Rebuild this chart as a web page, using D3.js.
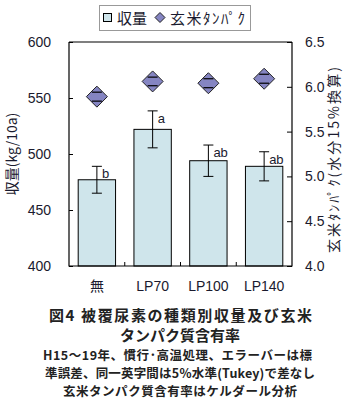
<!DOCTYPE html>
<html><head><meta charset="utf-8">
<script src="https://cdn.jsdelivr.net/npm/d3@7"></script>
<style>
body{margin:0;background:#fff;}
text{font-family:"Liberation Sans","Noto Sans CJK JP",sans-serif;}
.jp{font-family:"Noto Sans CJK JP","Liberation Sans",sans-serif;}
</style></head><body>
<svg id="c" width="347" height="400"></svg>
<script>
const categories = ["無","LP70","LP100","LP140"];
const yieldVals = [477, 522, 494, 489];
const yieldErr = [12, 16.5, 14, 13];
const sigLetters = ["b","a","ab","ab"];
const proteinVals = [5.89, 6.06, 6.04, 6.09];
const proteinErr = [0.05, 0.048, 0.05, 0.05];
const leftTicks = [400,450,500,550,600];
const rightTicks = [4.0,4.5,5.0,5.5,6.0,6.5];
const captionLines = ["図4  被覆尿素の種類別収量及び玄米","タンパク質含有率"];
const noteLines = ["H15～19年、慣行･高温処理、エラーバーは標","準誤差、同一英字間は5％水準(Tukey)で差なし","玄米タンパク質含有率はケルダール分析"];

const svg = d3.select("#c");
const L=69, R=292, T=42, B=266;
const x = d3.scaleBand().domain(categories).range([L,R]).paddingInner(0.33).paddingOuter(0.165);
const yL = d3.scaleLinear().domain([400,600]).range([B,T]);
const yR = d3.scaleLinear().domain([4.0,6.5]).range([B,T]);
const ink = "#1a1a2e";

// bars
svg.selectAll(".bar").data(categories).enter().append("rect")
  .attr("x",d=>x(d)).attr("width",x.bandwidth())
  .attr("y",(d,i)=>yL(yieldVals[i])).attr("height",(d,i)=>B-yL(yieldVals[i]))
  .attr("fill","#cfe5eb").attr("stroke","#000").attr("stroke-width",1);
// bar error bars
categories.forEach((c,i)=>{
  const cx = x(c)+x.bandwidth()/2;
  const y1=yL(yieldVals[i]+yieldErr[i]), y2=yL(yieldVals[i]-yieldErr[i]);
  const g=svg.append("g").attr("stroke","#000").attr("stroke-width",1);
  g.append("line").attr("x1",cx).attr("x2",cx).attr("y1",y1).attr("y2",y2);
  g.append("line").attr("x1",cx-5).attr("x2",cx+5).attr("y1",y1).attr("y2",y1);
  g.append("line").attr("x1",cx-5).attr("x2",cx+5).attr("y1",y2).attr("y2",y2);
  svg.append("text").attr("x",cx+5).attr("y",y1+12).attr("font-size",13).attr("fill",ink).text(sigLetters[i]);
});
// protein error bars + diamonds
categories.forEach((c,i)=>{
  const cx = x(c)+x.bandwidth()/2;
  const y1=yR(proteinVals[i]+proteinErr[i]), y2=yR(proteinVals[i]-proteinErr[i]);
  const cy=yR(proteinVals[i]), r=10.5;
  svg.append("line").attr("x1",cx).attr("x2",cx).attr("y1",y1).attr("y2",y2).attr("stroke","#000");
  svg.append("path").attr("d",`M${cx},${cy-r}L${cx+r},${cy}L${cx},${cy+r}L${cx-r},${cy}Z`)
    .attr("fill","#8585c2").attr("stroke","#222").attr("stroke-width",1);
  const g=svg.append("g").attr("stroke","#000").attr("stroke-width",1.2);
  g.append("line").attr("x1",cx-5).attr("x2",cx+5).attr("y1",y1).attr("y2",y1);
  g.append("line").attr("x1",cx-5).attr("x2",cx+5).attr("y1",y2).attr("y2",y2);
});

// axes
const axL = svg.append("g").attr("transform",`translate(${L},0)`)
  .call(d3.axisLeft(yL).tickValues(leftTicks).tickSize(-4).tickPadding(18).tickFormat(d3.format("d")));
const axR = svg.append("g").attr("transform",`translate(${R},0)`)
  .call(d3.axisRight(yR).tickValues(rightTicks).tickSize(-5).tickPadding(13).tickFormat(d3.format(".1f")));
const axB = svg.append("g").attr("transform",`translate(0,${B})`)
  .call(d3.axisBottom(x).tickSize(0).tickPadding(15));
[axL,axR,axB].forEach(a=>{
  a.select(".domain").remove();
  a.selectAll("line").attr("stroke","#000");
  a.selectAll("text").attr("font-size",14).attr("fill",ink).attr("font-family",'"Liberation Sans","Noto Sans CJK JP",sans-serif');
});
// category boundary ticks on bottom
const bnd = categories.slice(1).map(c=>x(c)-x.step()*x.paddingInner()/2);
svg.selectAll(".bt").data(bnd).enter().append("line")
  .attr("x1",d=>d).attr("x2",d=>d).attr("y1",B).attr("y2",B-4).attr("stroke","#000");
// frame
svg.append("path").attr("d",`M${L},${T}V${B}H${R}V${T}`).attr("fill","none").attr("stroke","#000").attr("stroke-width",1.2);
svg.append("line").attr("x1",L).attr("x2",R).attr("y1",T).attr("y2",T).attr("stroke","#000").attr("stroke-width",1.2);

// axis titles
svg.append("text").attr("class","jp").attr("transform",`translate(17,${(T+B)/2}) rotate(-90)`)
  .attr("text-anchor","middle").attr("font-size",14).attr("fill",ink).text("収量(kg/10a)");
svg.append("text").attr("class","jp").attr("transform",`translate(339,${(T+B)/2+6}) rotate(-90)`)
  .attr("text-anchor","middle").attr("font-size",14).attr("fill",ink)
  .attr("textLength",186).attr("lengthAdjust","spacing").text("玄米ﾀﾝﾊﾟｸ(水分15%換算)");

// legend
svg.append("rect").attr("x",99.5).attr("y",5.5).attr("width",151).attr("height",25).attr("fill","#fff").attr("stroke","#999");
svg.append("rect").attr("x",103.5).attr("y",13.5).attr("width",8).attr("height",8).attr("fill","#cfe5eb").attr("stroke","#000");
svg.append("text").attr("class","jp").attr("x",117).attr("y",24).attr("font-size",15).attr("fill",ink).text("収量");
svg.append("path").attr("d","M160,12.5L165,17.5L160,22.5L155,17.5Z").attr("fill","#8585c2").attr("stroke","#222");
svg.append("text").attr("class","jp").attr("x",170).attr("y",24).attr("font-size",15).attr("fill",ink)
  .attr("textLength",75).attr("lengthAdjust","spacing").text("玄米ﾀﾝﾊﾟｸ");

// captions
const capW=[263,120], capX=[180.5,180];
captionLines.forEach((t,i)=>{
  svg.append("text").attr("class","jp").attr("x",capX[i]).attr("y",321+i*20).attr("text-anchor","middle")
    .attr("font-size",15).attr("font-weight","bold").attr("fill","#222")
    .attr("textLength",capW[i]).attr("lengthAdjust","spacing").text(t);
});
const noteW=[269,270,234], noteX=[177.5,180,180];
noteLines.forEach((t,i)=>{
  svg.append("text").attr("class","jp").attr("x",noteX[i]).attr("y",360+i*18).attr("text-anchor","middle")
    .attr("font-size",12.5).attr("font-weight","bold").attr("fill","#222")
    .attr("textLength",noteW[i]).attr("lengthAdjust","spacing").text(t);
});
</script></body></html>
